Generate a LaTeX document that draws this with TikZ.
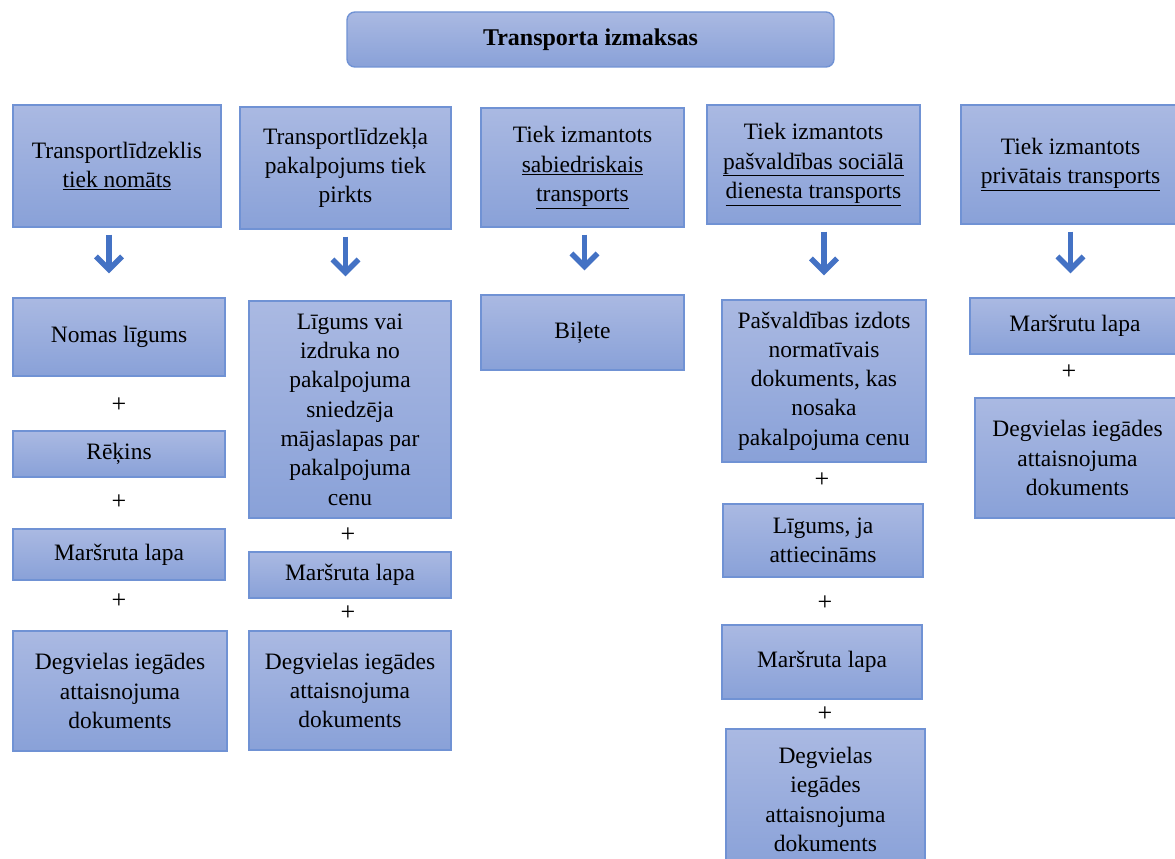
\documentclass[tikz,border=0pt]{standalone}
\usepackage{fontspec}
\setmainfont{Liberation Serif}
\usetikzlibrary{arrows.meta}

\definecolor{boxtop}{RGB}{170,185,226}
\definecolor{boxbot}{RGB}{137,161,216}
\definecolor{boxline}{RGB}{112,146,212}
\definecolor{arrblue}{RGB}{68,114,196}

\tikzset{
  box/.style={draw=boxline, line width=1.4pt, top color=boxtop, bottom color=boxbot,
    align=center, inner sep=0pt, font=\fontsize{23.5}{29.3}\selectfont},
  titlebox/.style={box, rounded corners=8pt, font=\fontsize{24}{29.3}\selectfont\bfseries},
  arr/.style={draw=arrblue, line width=5.5pt, shorten <=7pt, shorten >=24pt,
    -{Straight Barb[length=13pt,width=26pt]}},
  plus/.style={font=\fontsize{26}{29.3}\selectfont, inner sep=0pt}
}

\begin{document}
\begin{tikzpicture}[x=1pt,y=-1pt]
	\useasboundingbox (0,0) rectangle (1175,859);

	% title
	\node[titlebox, minimum width=487pt, minimum height=55pt] (title) at (590.5,39.5) {Transporta izmaksas};

	% header row
	\node[box, minimum width=208pt, minimum height=122pt] (hA) at (117,166)
        {Transportlīdzeklis\\\underline{tiek nomāts}};
	\node[box, minimum width=211pt, minimum height=122pt] (hB) at (345.5,168)
        {Transportlīdzekļa\\pakalpojums tiek\\pirkts};
	\node[box, minimum width=203pt, minimum height=119pt] (hC) at (582.5,167.5)
        {Tiek izmantots\\\underline{sabiedriskais}\\\underline{transports}};
	\node[box, minimum width=213pt, minimum height=119pt] (hD) at (813.5,164.5)
        {Tiek izmantots\\\underline{pašvaldības sociālā}\\\underline{dienesta transports}};
	\node[box, minimum width=219pt, minimum height=119pt] (hE) at (1070.5,164.5)
        {Tiek izmantots\\\underline{privātais transports}};

	% column A
	\node[box, minimum width=212pt, minimum height=78pt] (a1) at (119,337) {Nomas līgums};
	\node[box, minimum width=212pt, minimum height=46pt] (a2) at (119,454) {Rēķins};
	\node[box, minimum width=212pt, minimum height=51pt] (a3) at (119,554.5) {Maršruta lapa};
	\node[box, minimum width=214pt, minimum height=120pt] (a4) at (120,691)
        {Degvielas iegādes\\attaisnojuma\\dokuments};
	\node[plus] (pa1) at (119,405) {+};
	\node[plus] (pa2) at (119,502) {+};
	\node[plus] (pa3) at (119,601) {+};

	% column B
	\node[box, minimum width=202pt, minimum height=217pt] (b1) at (350,409.5)
        {Līgums vai\\izdruka no\\pakalpojuma\\sniedzēja\\mājaslapas par\\pakalpojuma\\cenu};
	\node[box, minimum width=202pt, minimum height=46pt] (b2) at (350,575) {Maršruta lapa};
	\node[box, minimum width=202pt, minimum height=119pt] (b3) at (350,690.5)
        {Degvielas iegādes\\attaisnojuma\\dokuments};
	\node[plus] (pb1) at (348,535) {+};
	\node[plus] (pb2) at (348,613) {+};

	% column C
	\node[box, minimum width=203pt, minimum height=75pt] (c1) at (582.5,332.5) {Biļete};

	% column D
	\node[box, minimum width=204pt, minimum height=162pt] (d1) at (824,381)
        {Pašvaldības izdots\\normatīvais\\dokuments, kas\\nosaka\\pakalpojuma cenu};
	\node[box, minimum width=200pt, minimum height=73pt] (d2) at (823,540.5)
        {Līgums, ja\\attiecināms};
	\node[box, minimum width=200pt, minimum height=74pt] (d3) at (822,662) {Maršruta lapa};
	\node[box, minimum width=199pt, minimum height=141pt] (d4) at (825.5,799.5)
        {Degvielas\\iegādes\\attaisnojuma\\dokuments};
	\node[plus] (pd1) at (822,480) {+};
	\node[plus] (pd2) at (825,603) {+};
	\node[plus] (pd3) at (825,714) {+};

	% column E
	\node[box, minimum width=210pt, minimum height=56pt] (e1) at (1075,326) {Maršrutu lapa};
	\node[box, minimum width=205pt, minimum height=120pt] (e2) at (1077.5,458)
        {Degvielas iegādes\\attaisnojuma\\dokuments};
	\node[plus] (pe1) at (1069,372) {+};

	% arrows
	\draw[arr] ([xshift=-8pt]hA.south) -- ([xshift=-8pt]hA.south |- a1.north);
	\draw[arr] (hB.south) -- (hB.south |- b1.north);
	\draw[arr] ([xshift=2pt]hC.south) -- ([xshift=2pt]hC.south |- c1.north);
	\draw[arr] (hD.south -| d1.north) -- (d1.north);
	\draw[arr] (hE.south) -- (hE.south |- e1.north);
\end{tikzpicture}
\end{document}
